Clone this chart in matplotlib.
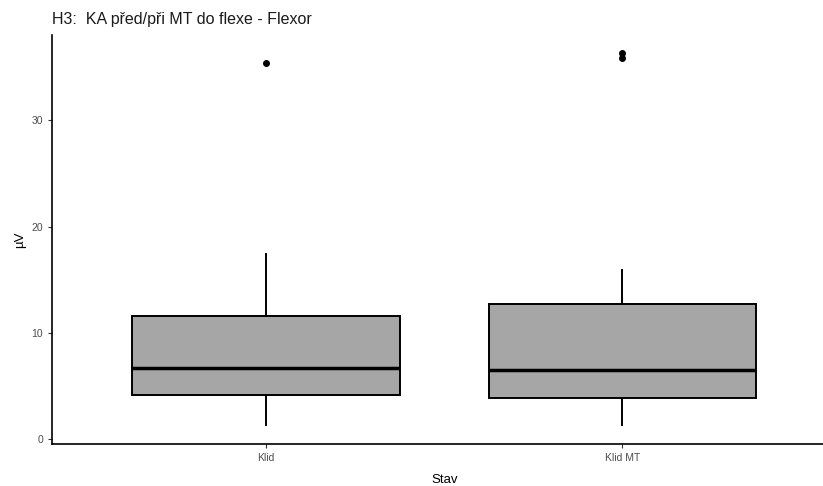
import matplotlib
matplotlib.use("Agg")
import matplotlib.pyplot as plt

plt.rcParams['font.family'] = ['Liberation Sans', 'DejaVu Sans']

# Data
kategorie = ["Klid", "Klid MT"]
whisker_low = [1.3, 1.3]
q1 = [4.15, 3.85]
median = [6.7, 6.55]
q3 = [11.6, 12.7]
whisker_high = [17.4, 15.9]
outliers = [[35.4], [35.9, 36.3]]

stats = []
for i in range(len(kategorie)):
    stats.append({
        'label': kategorie[i],
        'whislo': whisker_low[i],
        'q1': q1[i],
        'med': median[i],
        'q3': q3[i],
        'whishi': whisker_high[i],
        'fliers': outliers[i],
    })

fig = plt.figure(figsize=(8.23, 4.86), dpi=100)
# the plot panel runs a bit past the right edge of the image
ax = fig.add_axes([0.0632, 0.0864, 0.953, 0.842])

ax.bxp(stats, positions=[1, 2], widths=0.75, patch_artist=True, showcaps=False,
       boxprops=dict(facecolor='#A6A6A6', edgecolor='black', linewidth=1.4),
       medianprops=dict(color='black', linewidth=2.5),
       whiskerprops=dict(color='black', linewidth=1.4),
       flierprops=dict(marker='o', markerfacecolor='black', markeredgecolor='black',
                       markersize=4))

ax.set_xlim(0.4, 2.6)
ax.set_ylim(-0.45, 38.05)
ax.set_yticks([0, 10, 20, 30])
ax.set_xticks([1, 2])
ax.set_xticklabels(kategorie)

for s in ['top', 'right']:
    ax.spines[s].set_visible(False)
for s in ['left', 'bottom']:
    ax.spines[s].set_linewidth(1.2)
ax.tick_params(axis='both', colors='#333333', labelcolor='#4D4D4D', labelsize=7.5,
               length=3, width=0.8)

ax.set_xlabel('Stav', fontsize=9.5, labelpad=8)
ax.set_ylabel('µV', fontsize=9.5, labelpad=4)
fig.text(0.0632, 0.945, 'H3:  KA před/při MT do flexe - Flexor', fontsize=11.5,
         ha='left', va='bottom', color='#1A1A1A')

fig.savefig('out.png', dpi=100)
